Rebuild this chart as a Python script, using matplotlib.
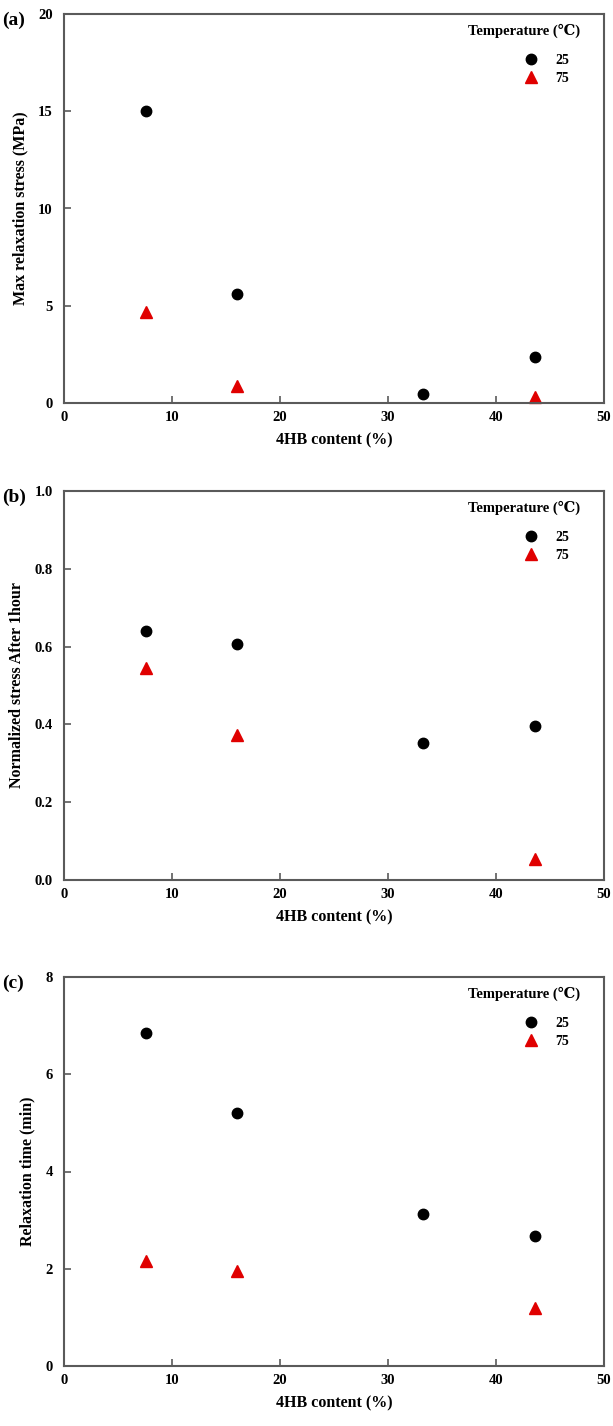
import matplotlib
matplotlib.use("Agg")
import matplotlib.pyplot as plt

plt.rcParams['font.family'] = ['Liberation Serif', 'DejaVu Serif']
plt.rcParams['font.weight'] = 'bold'

# 4HB content of the samples (%)
hb_25 = [7.6, 16.0, 33.2, 43.6]
hb_75 = [7.6, 16.0, 43.6]

# (a) max relaxation stress (MPa)
stress_25 = [15.0, 5.6, 0.45, 2.35]
stress_75 = [4.7, 0.85, 0.3]

# (b) normalized stress after 1 hour
norm_25 = [0.64, 0.607, 0.351, 0.397]
norm_75 = [0.546, 0.373, 0.055]

# (c) relaxation time (min)
time_25 = [6.84, 5.21, 3.13, 2.67]
time_75 = [2.15, 1.96, 1.19]

panels = [
    ("(a)", "Max relaxation stress (MPa)", stress_25, stress_75, (0, 20), [0, 5, 10, 15, 20], "{:.0f}"),
    ("(b)", "Normalized stress After 1hour", norm_25, norm_75, (0, 1.0), [0, 0.2, 0.4, 0.6, 0.8, 1.0], "{:.1f}"),
    ("(c)", "Relaxation time (min)", time_25, time_75, (0, 8), [0, 2, 4, 6, 8], "{:.0f}"),
]

fig = plt.figure(figsize=(6.13, 14.26), dpi=100)
left, width, height = 64 / 613, 540 / 613, 389 / 1426
tops = [14, 491, 977]
spine_col = "#5a5a5a"

for (tag, ylabel, y25, y75, ylim, yticks, fmt), top in zip(panels, tops):
    bottom = 1 - (top + 389) / 1426
    ax = fig.add_axes([left, bottom, width, height])
    ax.plot(hb_25, y25, 'o', color='black', markersize=7.5, label='25', clip_on=False)
    ax.plot(hb_75, y75, '^', color='#e00000', markersize=8, label='75', clip_on=False)

    ax.set_xlim(0, 50)
    ax.set_ylim(*ylim)
    ax.set_xticks([0, 10, 20, 30, 40, 50])
    ax.set_yticks(yticks)
    ax.set_yticklabels([fmt.format(v) for v in yticks])
    for s in ax.spines.values():
        s.set_color(spine_col)
        s.set_linewidth(1.5)
    ax.tick_params(direction='in', length=5, width=1.2, color=spine_col,
                   labelsize=10.5, top=False, right=False)
    ax.tick_params(axis='x', pad=6)
    ax.tick_params(axis='y', pad=8)

    ax.set_xlabel("4HB content (%)", fontsize=11.5, fontweight='bold', labelpad=6)
    ax.set_ylabel(ylabel, fontsize=11.5, fontweight='bold', labelpad=7)

    # legend: title on its own line, entries tucked under its right end
    ax.text(0.852, 0.956, "Temperature (\u2103)", transform=ax.transAxes,
            ha='center', va='center', fontsize=10.5, fontweight='bold')
    leg = ax.legend(loc='upper right', bbox_to_anchor=(0.936, 0.898),
                    frameon=False, fontsize=10, handlelength=1.0,
                    handletextpad=1.3, labelspacing=0.35,
                    borderpad=0, borderaxespad=0)
    for t in leg.get_texts():
        t.set_fontweight('bold')

    fig.text(0.004, 1 - (top + 6) / 1426, tag, fontsize=14, fontweight='bold',
             ha='left', va='center')

fig.savefig("out.png", dpi=100)
